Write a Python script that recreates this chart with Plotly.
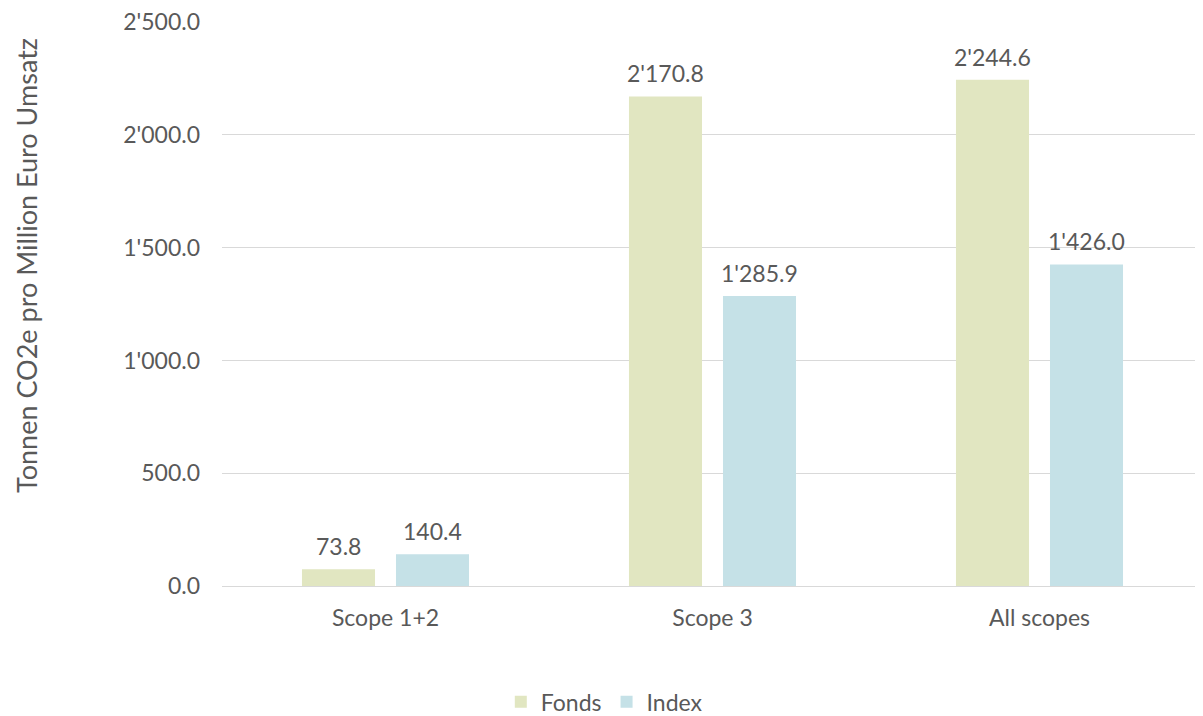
import plotly.graph_objects as go

categories = ["Scope 1+2", "Scope 3", "All scopes"]
fonds = [73.8, 2170.8, 2244.6]
index_vals = [140.4, 1285.9, 1426.0]
series_names = ["Fonds", "Index"]
y_title = "Tonnen CO2e pro Million Euro Umsatz"
tick_vals = [0, 500, 1000, 1500, 2000, 2500]

FONT = "Lato, 'Open Sans', sans-serif"
GRAY = "#595959"
BARGAP = 0.425

fig = go.Figure()
series = [(series_names[0], fonds, "#E1E6C1"), (series_names[1], index_vals, "#C5E1E7")]
for name, vals, color in series:
    fig.add_trace(go.Bar(
        x=categories, y=vals, name=name,
        marker=dict(color=color, line=dict(width=0)),
        hoverinfo="x+y+name",
    ))

# value labels, placed through the category axis (group offsets in category units)
slot = (1 - BARGAP) / len(series)
annotations = []
for k, (name, vals, color) in enumerate(series):
    off = -(1 - BARGAP) / 2 + slot * (k + 0.5)
    for i, v in enumerate(vals):
        annotations.append(dict(
            x=i + off, y=v, xref="x", yref="y",
            text=f"{v:,.1f}".replace(",", "'"),
            showarrow=False, yanchor="bottom", yshift=7,
            font=dict(family=FONT, size=23, color=GRAY),
        ))

# y axis title
annotations.append(dict(
    x=-0.2178, y=0.569, xref="paper", yref="paper",
    text=y_title, textangle=-90, showarrow=False,
    xanchor="left", yanchor="middle", borderpad=0,
    font=dict(family=FONT, size=27, color=GRAY),
))

fig.update_layout(
    width=1195, height=708,
    margin=dict(l=214, r=0, t=14, b=130),
    paper_bgcolor="white", plot_bgcolor="white",
    separators=".'",
    barmode="group", bargap=BARGAP, bargroupgap=0.223,
    font=dict(family=FONT, size=23, color=GRAY),
    showlegend=True,
    annotations=annotations,
    legend=dict(orientation="h", x=0.499, xanchor="center", xref="container",
                y=0.02, yanchor="middle", yref="container",
                font=dict(family=FONT, size=23, color=GRAY),
                itemwidth=30, traceorder="normal"),
    xaxis=dict(showgrid=False, showline=False, ticks="", ticklabelstandoff=16,
               tickfont=dict(size=23, color=GRAY)),
    yaxis=dict(range=[0, 2501], tickvals=tick_vals, tickformat=",.1f",
               showgrid=True, gridcolor="#D9D9D9", gridwidth=1,
               zeroline=True, zerolinecolor="#D9D9D9", zerolinewidth=1,
               showline=False, ticks="", ticklabelstandoff=21,
               ticklabeloverflow="allow",
               tickfont=dict(size=23, color=GRAY)),
)

fig.write_html("out.html")
